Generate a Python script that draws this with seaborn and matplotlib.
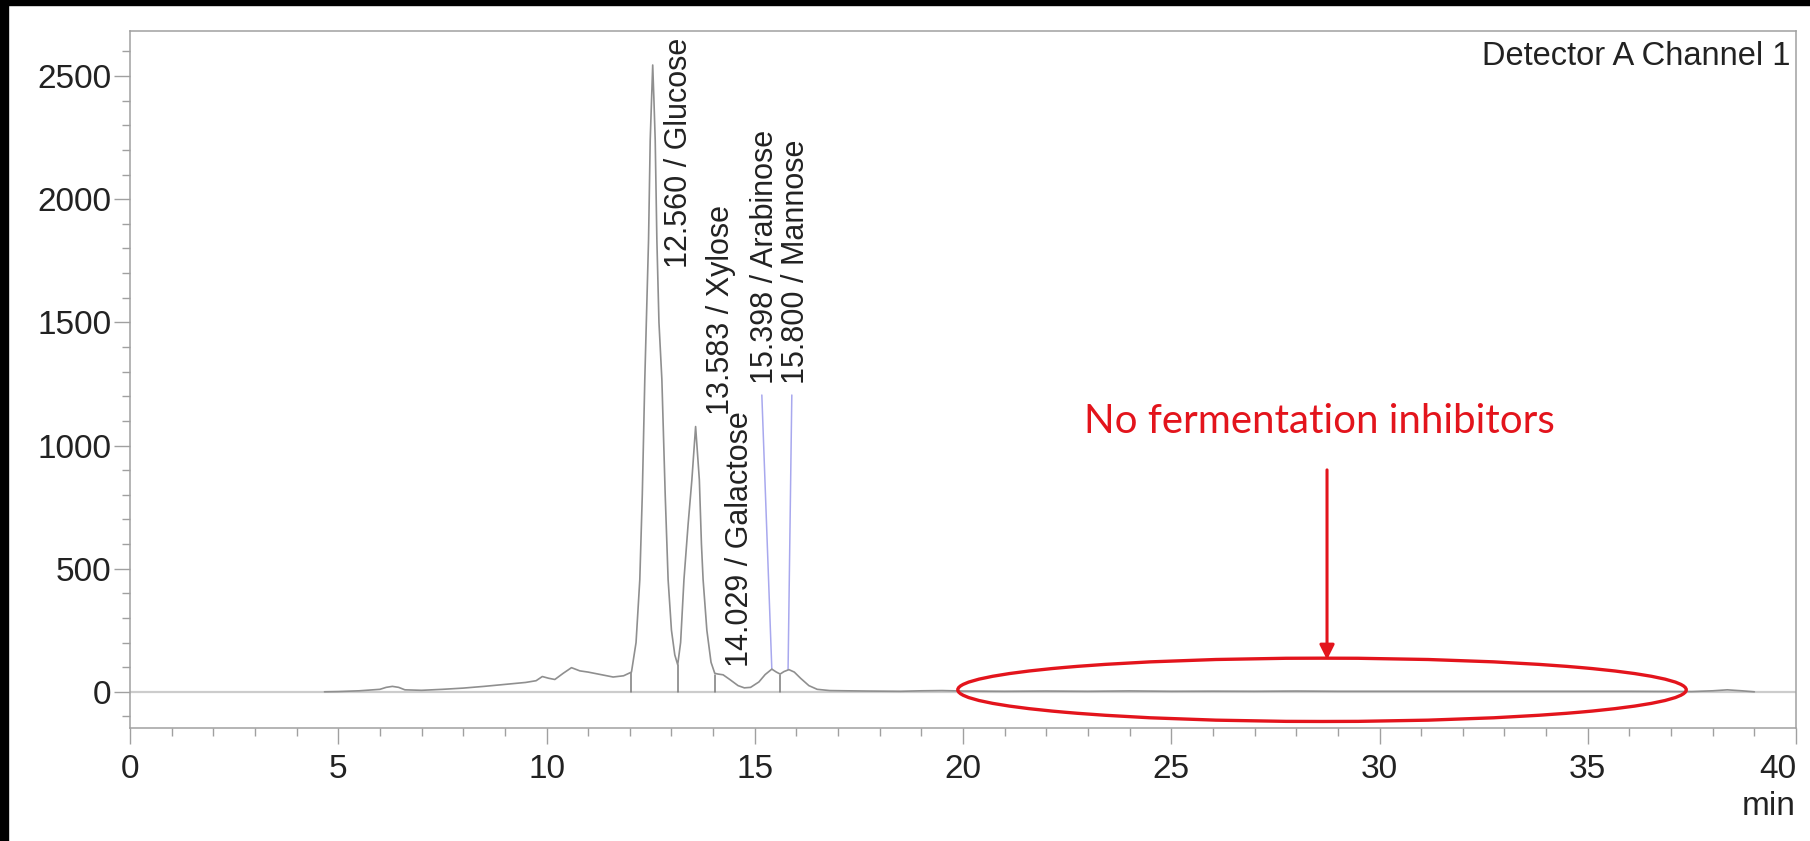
import matplotlib
matplotlib.use("Agg")
import matplotlib.pyplot as plt
import seaborn as sns
import pandas as pd
from matplotlib.patches import Ellipse, Rectangle
from matplotlib.ticker import MultipleLocator

# ---- chromatogram trace ----
time_min = [4.67, 5.0, 5.5, 6.0, 6.15, 6.3, 6.45, 6.6, 7.0, 7.5, 8.0, 8.5, 9.0, 9.5,
            9.75, 9.9, 10.05, 10.2, 10.4, 10.6, 10.8, 11.0, 11.3, 11.6, 11.85, 12.04,
            12.15, 12.24, 12.30, 12.36, 12.45, 12.49, 12.55, 12.58, 12.61, 12.65, 12.70,
            12.77, 12.85, 12.92, 13.0, 13.08, 13.15, 13.22, 13.3, 13.40, 13.49, 13.58,
            13.67, 13.72, 13.76, 13.85, 13.95, 14.04, 14.12, 14.24, 14.4, 14.6, 14.75,
            14.9, 15.1, 15.25, 15.41, 15.52, 15.61, 15.7, 15.82, 15.95, 16.1, 16.3, 16.5,
            16.8, 17.2, 17.7, 18.5, 19.0, 19.5, 20.0, 21.0, 22.0, 23.0, 24.0, 25.0, 26.0,
            27.0, 28.0, 29.0, 30.0, 32.0, 34.0, 36.0, 37.5, 38.0, 38.35, 38.7, 39.0]
signal_mv = [0, 1, 4, 10, 18, 22, 18, 8, 6, 10, 15, 22, 30, 38,
             45, 62, 55, 50, 75, 98, 85, 80, 70, 60, 65, 80,
             200, 455, 800, 1268, 1834, 2240, 2545, 2400, 2240, 1834, 1500,
             1268, 800, 455, 250, 150, 110, 200, 455, 680, 860, 1077,
             860, 600, 455, 250, 120, 75, 72, 69, 50, 25, 16,
             18, 40, 70, 92, 80, 72, 82, 90, 80, 55, 25, 10,
             5, 4, 3, 2, 4, 5, 3, 2, 3, 2, 3.5, 2, 2.5,
             2, 3, 2, 2, 2, 2, 2, 1, 4, 8, 4, 0]

# ---- peak annotations ----
peak_labels = ["12.560 / Glucose", "13.583 / Xylose", "14.029 / Galactose",
               "15.398 / Arabinose", "15.800 / Mannose"]
label_x = [13.18, 14.19, 14.65, 15.25, 16.0]
label_y = [1721, 1122, 100, 1250, 1250]

# baseline drop lines at peak boundaries
drop_x = [12.04, 13.15, 14.04, 15.61]
drop_top = [77, 110, 69, 69]

# blue leader lines (Arabinose, Mannose)
leader_x0 = [15.17, 15.89]
leader_y0 = [1205, 1205]
leader_x1 = [15.41, 15.80]
leader_y1 = [92, 90]

# callout
callout_text = "No fermentation inhibitors"
callout_xy = (28.55, 1051)
arrow_x = 28.74
arrow_from = 901
arrow_to = 130
ellipse_center = (28.62, 8)
ellipse_w = 17.49
ellipse_h = 257

x_ticks = [0, 5, 10, 15, 20, 25, 30, 35, 40]
y_ticks = [0, 500, 1000, 1500, 2000, 2500]

sns.set_theme(style="white")
plt.rcParams["font.family"] = ["Liberation Sans", "DejaVu Sans"]

W, H = 1810, 841
fig = plt.figure(figsize=(W / 100, H / 100), dpi=100)
fig.patch.set_facecolor("white")
ax = fig.add_axes([130 / W, (H - 728) / H, (1796 - 130) / W, (728 - 31) / H])

# zero line
ax.axhline(0, color="#cccccc", lw=1.6, zorder=1)

df = pd.DataFrame({"t": time_min, "s": signal_mv})
sns.lineplot(data=df, x="t", y="s", ax=ax, color="#8f8f8f", lw=1.2,
             estimator=None, sort=False, zorder=3)

for x, top in zip(drop_x, drop_top):
    ax.plot([x, x], [0, top], color="#7a7a7a", lw=1.1, zorder=2)

for x0, y0, x1, y1 in zip(leader_x0, leader_y0, leader_x1, leader_y1):
    ax.plot([x0, x1], [y0, y1], color="#a8a8ee", lw=1.1, zorder=2)

for lab, x, y in zip(peak_labels, label_x, label_y):
    ax.text(x, y, lab, rotation=90, ha="center", va="bottom",
            fontsize=22, color="#222222", zorder=4)

red = "#e3141c"
ax.add_patch(Ellipse(ellipse_center, ellipse_w, ellipse_h, fill=False,
                     edgecolor=red, lw=2.4, zorder=5))
ax.annotate("", xy=(arrow_x, arrow_to), xytext=(arrow_x, arrow_from),
            arrowprops=dict(arrowstyle="-|>", color=red, lw=2.2,
                            mutation_scale=22, shrinkA=0, shrinkB=0), zorder=5)
ax.text(callout_xy[0], callout_xy[1], callout_text, color=red, fontsize=29,
        family=["Lato", "DejaVu Sans"], ha="center", va="baseline", zorder=5)

ax.text(0.9965, 0.985, "Detector A Channel 1", transform=ax.transAxes,
        ha="right", va="top", fontsize=23.5, color="#222222")

ax.set_xlim(0, 40)
ax.set_ylim(-147, 2683)
ax.set_xticks(x_ticks)
ax.set_xticklabels([str(v) for v in x_ticks])
ax.set_yticks(y_ticks)
ax.set_yticklabels([str(v) for v in y_ticks])
ax.xaxis.set_minor_locator(MultipleLocator(1))
ax.yaxis.set_minor_locator(MultipleLocator(100))
ax.set_xlabel("")
ax.set_ylabel("")

spine_c = "#a0a0a0"
for sp in ax.spines.values():
    sp.set_color(spine_c)
    sp.set_linewidth(1.1)
    sp.set_visible(True)

ax.tick_params(axis="both", which="major", direction="out", length=11.5,
               width=1.0, color=spine_c, labelsize=24, labelcolor="#222222",
               bottom=True, left=True, top=False, right=False)
ax.tick_params(axis="both", which="minor", direction="out", length=5.8,
               width=1.0, color=spine_c, bottom=True, left=True, top=False, right=False)
ax.tick_params(axis="x", which="major", pad=7)
ax.tick_params(axis="y", which="major", pad=2)
ax.grid(False)

xl = ax.get_xticklabels()
xl[-1].set_horizontalalignment("right")

# x unit label, right-aligned under the last tick label
ax.text(1.0, -0.125, "min", transform=ax.transAxes, ha="right", va="baseline",
        fontsize=24, color="#222222")

# black border strips of the screenshot
fig.add_artist(Rectangle((0, 1 - 5 / H), 1, 5 / H, transform=fig.transFigure,
                         color="black", zorder=10))
fig.add_artist(Rectangle((0, 0), 8 / W, 1, transform=fig.transFigure,
                         color="black", zorder=10))

fig.savefig("out.png", dpi=100, facecolor="white")
